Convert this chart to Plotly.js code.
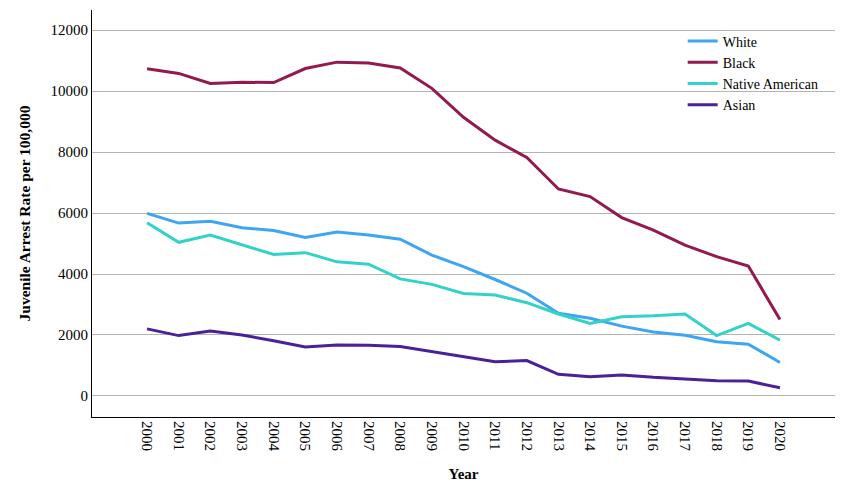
<!DOCTYPE html>
<html>
<head>
<meta charset="utf-8">
<script src="https://cdn.plot.ly/plotly-3.0.1.min.js"></script>
<style>html,body{margin:0;padding:0;background:#fff;}#chart{width:853px;height:503px;}</style>
</head>
<body>
<div id="chart"></div>
<script>
const years = [2000,2001,2002,2003,2004,2005,2006,2007,2008,2009,2010,2011,2012,2013,2014,2015,2016,2017,2018,2019,2020];
const white = [5990,5670,5730,5520,5430,5200,5380,5280,5140,4620,4240,3820,3370,2710,2550,2290,2100,1990,1780,1700,1100];
const black = [10730,10580,10250,10290,10280,10740,10950,10920,10760,10090,9140,8390,7820,6790,6540,5850,5440,4950,4570,4260,2510];
const nativeAmerican = [5680,5040,5280,4950,4640,4700,4400,4320,3840,3660,3360,3310,3060,2690,2380,2600,2630,2690,1980,2380,1830];
const asian = [2200,1980,2130,2000,1810,1610,1670,1660,1620,1460,1300,1120,1160,710,630,690,610,550,500,490,270];
const seriesNames = ['White','Black','Native American','Asian'];
const seriesColors = ['#3DA5F2','#921A4E','#32D2C9','#4A2196'];
const seriesValues = [white, black, nativeAmerican, asian];
const yTicks = [0,2000,4000,6000,8000,10000,12000];

const serif = 'Liberation Serif, Times New Roman, serif';
const traces = seriesValues.map((vals, i) => ({
  x: years, y: vals, type: 'scatter', mode: 'lines', name: seriesNames[i],
  line: {color: seriesColors[i], width: 3}
}));

const layout = {
  width: 853, height: 503,
  margin: {l: 92, r: 18, t: 10, b: 86},
  paper_bgcolor: '#fff', plot_bgcolor: '#fff',
  font: {family: serif, size: 15, color: '#000'},
  showlegend: true,
  legend: {x: 0.795, y: 0.962, xanchor: 'left', yanchor: 'top', bgcolor: 'rgba(0,0,0,0)',
           font: {family: serif, size: 14, color: '#000'}, tracegroupgap: 0},
  xaxis: {
    range: [1998.26, 2021.74], tickvals: years, ticktext: years.map(String),
    tickangle: 90, showgrid: false, zeroline: false, showline: true, linecolor: '#000', linewidth: 1,
    ticks: '', tickfont: {family: serif, size: 15, color: '#000'},
    title: {text: '<b>Year</b>', font: {family: serif, size: 15, color: '#000'}, standoff: 17}
  },
  yaxis: {
    range: [-690, 12660], tickvals: yTicks, ticktext: yTicks.map(String),
    showgrid: true, gridcolor: '#b4b4b4', gridwidth: 1, zeroline: false,
    showline: true, linecolor: '#000', linewidth: 1, ticks: '',
    tickfont: {family: serif, size: 15, color: '#000'},
    title: {text: '<b>Juvenile Arrest Rate per 100,000</b>', font: {family: serif, size: 15.5, color: '#000'}, standoff: 16}
  }
};
Plotly.newPlot('chart', traces, layout, {displayModeBar: false, staticPlot: true});
</script>
</body>
</html>
